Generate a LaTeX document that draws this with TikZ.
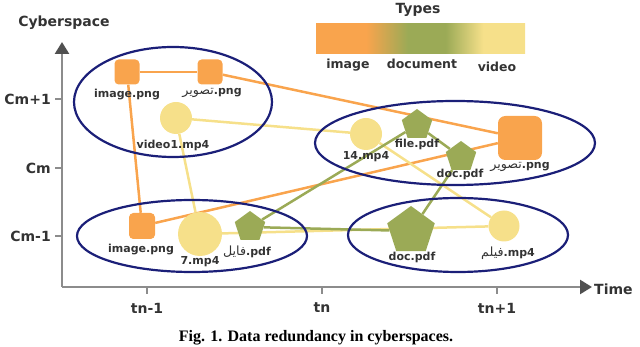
\documentclass[tikz,border=0pt]{standalone}
\usepackage{fontspec}
\setmainfont{DejaVu Sans}
\newfontfamily\arabicfont[Script=Arabic,Scale=1.15]{DejaVu Sans}
\newfontfamily\captionfont{Liberation Serif}
\TeXXeTstate=1
\usetikzlibrary{shapes.geometric,arrows.meta,backgrounds}

\definecolor{imgorange}{HTML}{F9A44D}
\definecolor{docgreen}{HTML}{9BAA56}
\definecolor{vidyellow}{HTML}{F6E08A}
\definecolor{navy}{HTML}{1B1F78}
\definecolor{axisgray}{HTML}{8C8C8C}
\definecolor{axisdark}{HTML}{505050}
\definecolor{txt}{HTML}{333333}

\pgfdeclarehorizontalshading{typesbar}{100bp}{color(0bp)=(imgorange); color(37bp)=(imgorange); color(47bp)=(docgreen); color(56bp)=(docgreen); color(65bp)=(vidyellow); color(100bp)=(vidyellow)}

\newcommand{\artext}[1]{{\arabicfont\mdseries\beginR #1\endR}}

\tikzset{
  imgnode/.style={rectangle,rounded corners=#1/6,fill=imgorange,minimum size=#1,inner sep=0pt},
  docnode/.style={regular polygon,regular polygon sides=5,fill=docgreen,minimum size=#1,inner sep=0pt},
  vidnode/.style={circle,fill=vidyellow,minimum size=#1,inner sep=0pt},
  group/.style={ellipse,draw=navy,line width=2.2pt,inner sep=0pt},
  lbl/.style={font=\bfseries\fontsize{11}{13}\selectfont,text=txt,inner sep=0pt},
  axislbl/.style={font=\bfseries\fontsize{14}{16}\selectfont,text=txt,inner sep=0pt},
  imgline/.style={imgorange,line width=2.5pt},
  docline/.style={docgreen,line width=2.5pt},
  vidline/.style={vidyellow,line width=2.5pt},
}

\begin{document}
\begin{tikzpicture}[x=1pt,y=-1pt]
	\useasboundingbox (0,0) rectangle (640,347);
	
	% axes
	\coordinate (origin) at (62,287);
	\coordinate (ytop) at (62,42);
	\coordinate (xend) at (592,287);
	\draw[axisgray,line width=2.5pt,-{Triangle[length=12pt,width=14pt,color=axisdark]}] (origin) -- (ytop);
	\draw[axisgray,line width=2.5pt,-{Triangle[length=12pt,width=14pt,color=axisdark]}] (origin) -- (xend);
	\node[axislbl] (ylabel) at (64,23) {Cyberspace};
	\node[axislbl,anchor=west] (xlabel) at (594,289) {Time};
	
	\foreach \y/\name in {99/Cm+1,168/Cm,236/Cm-1}{
		\draw[axisgray,line width=2pt] (55,\y) -- (origin |- 0,\y);
		\node[axislbl,anchor=east] at (51,\y) {\name};
	}
	\foreach \x/\name in {147/tn-1,322/tn,497/tn+1}{
		\draw[axisgray,line width=2pt] (\x,287) -- (\x,294);
		\node[axislbl] at (\x,308) {\name};
	}
	
	% legend
	\node[axislbl] (types) at (418,10) {Types};
	\shade[shading=typesbar] (316,24) rectangle (525,54);
	\node[axislbl,font=\bfseries\fontsize{12.5}{14}\selectfont] (limg) at (348,65) {image};
	\node[axislbl,font=\bfseries\fontsize{12.5}{14}\selectfont] (ldoc) at (422,64) {document};
	\node[axislbl,font=\bfseries\fontsize{12.5}{14}\selectfont] (lvid) at (497,67) {video};
	
	% cyberspaces
	\node[group,minimum width=198,minimum height=110] (cmplus) at (173,102) {};
	\node[group,minimum width=280,minimum height=84] (cmnow) at (455,143) {};
	\node[group,minimum width=230,minimum height=72] (cmminusa) at (192,236) {};
	\node[group,minimum width=220,minimum height=74] (cmminusb) at (458,235) {};
	
	% files
	\node[imgnode=25] (img1) at (127,72) {};
	\node[imgnode=25] (img2) at (210,72) {};
	\node[vidnode=32] (vid1) at (176,118) {};
	\node[vidnode=32] (vid14) at (366,134) {};
	\node[docnode=32] (file) at (417,125) {};
	\node[docnode=32] (docT) at (461,157) {};
	\node[imgnode=44] (img3) at (520,138) {};
	\node[imgnode=26] (img4) at (142,226) {};
	\node[vidnode=44] (vid7) at (200,234) {};
	\node[docnode=32] (fayl) at (250,227) {};
	\node[docnode=50] (docB) at (411,231) {};
	\node[vidnode=31] (film) at (504,226) {};
	
	\node[lbl] (limg1) at (127,95) {image.png};
	\node[lbl] (limg2) at (212,93) {\artext{تصوير}.png};
	\node[lbl] (lvid1) at (173,145) {video1.mp4};
	\node[lbl] (lvid14) at (366,157) {14.mp4};
	\node[lbl] (lfile) at (417,144) {file.pdf};
	\node[lbl] (ldocT) at (460,174) {doc.pdf};
	\node[lbl] (limg3) at (520,167) {\artext{تصوير}.png};
	\node[lbl] (limg4) at (141,250) {image.png};
	\node[lbl] (lvid7) at (200,262) {7.mp4};
	\node[lbl] (lfayl) at (247,252) {\artext{فايل}.pdf};
	\node[lbl] (ldocB) at (412,257) {doc.pdf};
	\node[lbl] (lfilm) at (508,253) {\artext{فيلم}.mp4};
	
	% links
	\begin{scope}[on background layer]
		\draw[imgline] (img1) -- (img2);
		\draw[imgline] (img1) -- (img4);
		\draw[imgline] (img2) -- (img3);
		\draw[imgline] (img4) -- (img3);
		\draw[vidline] (vid1) -- (vid14);
		\draw[vidline] (vid1) -- (vid7);
		\draw[vidline] (vid14) -- (film);
		\draw[vidline] (vid7) -- (film);
		\draw[docline] (fayl) -- (file);
		\draw[docline] (fayl) -- (docB);
		\draw[docline] (file) -- (docT);
		\draw[docline] (docT) -- (docB);
	\end{scope}
	
	\node[font=\captionfont\bfseries\fontsize{16}{18}\selectfont,inner sep=0pt] (caption) at (316,338) {Fig. 1. Data redundancy in cyberspaces.};
	
\end{tikzpicture}
\end{document}
